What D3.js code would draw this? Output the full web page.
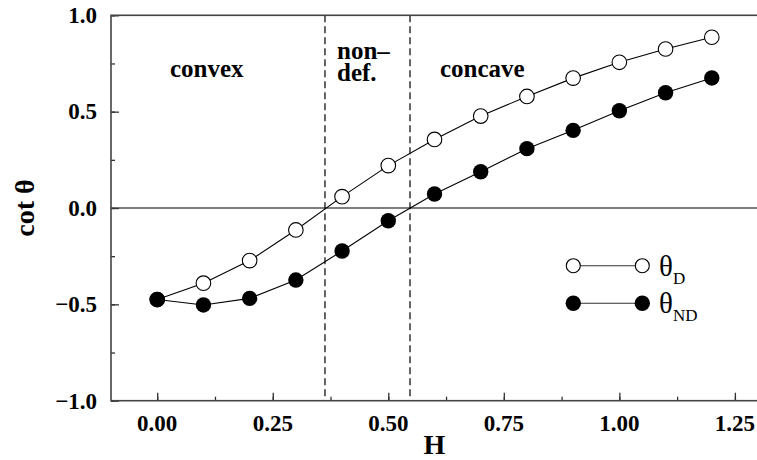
<!DOCTYPE html>
<html>
<head>
<meta charset="utf-8">
<script src="https://cdn.jsdelivr.net/npm/d3@7"></script>
<style>
  body { margin: 0; background: #fff; }
</style>
</head>
<body>
<div id="chart"></div>
<script>
const hValues = [0.0, 0.1, 0.2, 0.3, 0.4, 0.5, 0.6, 0.7, 0.8, 0.9, 1.0, 1.1, 1.2];
const thetaD = [-0.475, -0.39, -0.273, -0.114, 0.059, 0.22, 0.356, 0.477, 0.579, 0.674, 0.756, 0.825, 0.886];
const thetaND = [-0.475, -0.503, -0.469, -0.374, -0.223, -0.066, 0.073, 0.188, 0.308, 0.403, 0.505, 0.598, 0.675];
const xTicks = [0, 0.25, 0.5, 0.75, 1.0, 1.25];
const yTicks = [-1.0, -0.5, 0.0, 0.5, 1.0];
const boundaries = [0.363, 0.547];

const width = 757;
const height = 460;
const margin = { top: 15.3, right: -1, bottom: 59.3, left: 111 };
const serif = '"Liberation Serif", "Times New Roman", serif';

const svg = d3.select('#chart')
  .append('svg')
  .attr('width', width)
  .attr('height', height);

const x = d3.scaleLinear()
  .domain([-0.1, 1.3])
  .range([margin.left, width - margin.right]);

const y = d3.scaleLinear()
  .domain([-1, 1])
  .range([height - margin.bottom, margin.top]);

// zero line
svg.append('line')
  .attr('x1', x(-0.1)).attr('x2', x(1.3))
  .attr('y1', y(0)).attr('y2', y(0))
  .attr('stroke', '#000').attr('stroke-width', 1.2);

// regime boundaries
svg.append('g')
  .selectAll('line')
  .data(boundaries)
  .join('line')
    .attr('x1', d => x(d)).attr('x2', d => x(d))
    .attr('y1', y(1)).attr('y2', y(-1))
    .attr('stroke', '#000')
    .attr('stroke-width', 1.2)
    .attr('stroke-dasharray', '7,4');

// axes, ticks pointing inward
function xAxis(g) {
  g.attr('transform', `translate(0,${y(-1)})`)
    .call(d3.axisTop(x).tickValues(d3.range(0, 1.3, 0.125)).tickSize(4).tickFormat(''))
    .call(g => g.select('.domain').remove());
}
function xMajor(g) {
  g.attr('transform', `translate(0,${y(-1)})`)
    .call(d3.axisTop(x).tickValues(xTicks).tickSize(8).tickFormat(''))
    .call(g => g.select('.domain').remove());
}
function yAxis(g) {
  g.attr('transform', `translate(${x(-0.1)},0)`)
    .call(d3.axisRight(y).tickValues(d3.range(-1, 1.01, 0.25)).tickSize(4).tickFormat(''))
    .call(g => g.select('.domain').remove());
}
function yMajor(g) {
  g.attr('transform', `translate(${x(-0.1)},0)`)
    .call(d3.axisRight(y).tickValues(yTicks).tickSize(8).tickFormat(''))
    .call(g => g.select('.domain').remove());
}
svg.append('g').call(xAxis);
svg.append('g').call(xMajor);
svg.append('g').call(yAxis);
svg.append('g').call(yMajor);
svg.selectAll('.tick line').attr('stroke', '#333').attr('stroke-width', 1.3);

// frame
svg.append('rect')
  .attr('x', x(-0.1)).attr('y', y(1))
  .attr('width', x(1.3) - x(-0.1))
  .attr('height', y(-1) - y(1))
  .attr('fill', 'none')
  .attr('stroke', '#444')
  .attr('stroke-width', 1.6);

// tick labels
svg.append('g')
  .selectAll('text')
  .data(xTicks)
  .join('text')
    .attr('x', d => x(d))
    .attr('y', 431)
    .attr('text-anchor', 'middle')
    .style('font-family', serif)
    .style('font-weight', 'bold')
    .style('font-size', '23px')
    .text(d => d3.format('.2f')(d));

svg.append('g')
  .selectAll('text')
  .data(yTicks)
  .join('text')
    .attr('x', 97)
    .attr('y', d => y(d))
    .attr('dy', '0.34em')
    .attr('text-anchor', 'end')
    .style('font-family', serif)
    .style('font-weight', 'bold')
    .style('font-size', '23px')
    .text(d => (d < 0 ? '\u2212' : '') + d3.format('.1f')(Math.abs(d)));

// axis titles
svg.append('text')
  .attr('x', (x(-0.1) + x(1.3)) / 2)
  .attr('y', 454)
  .attr('text-anchor', 'middle')
  .style('font-family', serif)
  .style('font-weight', 'bold')
  .style('font-size', '28px')
  .text('H');

svg.append('text')
  .attr('transform', `translate(34,${y(0)}) rotate(-90)`)
  .attr('text-anchor', 'middle')
  .style('font-family', serif)
  .style('font-weight', 'bold')
  .style('font-size', '28px')
  .text('cot \u03b8');

// region labels
const regionLabels = [
  { text: 'convex', x: 170, y: 77 },
  { text: 'non\u2013', x: 337, y: 59 },
  { text: 'def.', x: 337, y: 81 },
  { text: 'concave', x: 440, y: 77 }
];
svg.append('g')
  .selectAll('text')
  .data(regionLabels)
  .join('text')
    .attr('x', d => d.x)
    .attr('y', d => d.y)
    .style('font-family', serif)
    .style('font-weight', 'bold')
    .style('font-size', '25px')
    .text(d => d.text);

// series
const line = d3.line().x(d => x(d[0])).y(d => y(d[1]));
const dData = hValues.map((h, i) => [h, thetaD[i]]);
const ndData = hValues.map((h, i) => [h, thetaND[i]]);

svg.append('path').datum(dData)
  .attr('d', line).attr('fill', 'none').attr('stroke', '#000').attr('stroke-width', 1.1);
svg.append('path').datum(ndData)
  .attr('d', line).attr('fill', 'none').attr('stroke', '#000').attr('stroke-width', 1.1);

svg.append('g')
  .selectAll('circle')
  .data(dData)
  .join('circle')
    .attr('cx', d => x(d[0])).attr('cy', d => y(d[1]))
    .attr('r', 7.3)
    .attr('fill', '#fff').attr('stroke', '#000').attr('stroke-width', 1.1);

svg.append('g')
  .selectAll('circle')
  .data(ndData)
  .join('circle')
    .attr('cx', d => x(d[0])).attr('cy', d => y(d[1]))
    .attr('r', 7.7)
    .attr('fill', '#000');

// legend
const legend = svg.append('g');
const legendItems = [
  { label: 'D', open: true, y: 265.7 },
  { label: 'ND', open: false, y: 303.3 }
];
legendItems.forEach(it => {
  legend.append('line')
    .attr('x1', 573.3).attr('x2', 642.3)
    .attr('y1', it.y).attr('y2', it.y)
    .attr('stroke', '#333').attr('stroke-width', 1.1);
  [573.3, 642.3].forEach(cx => {
    legend.append('circle')
      .attr('cx', cx).attr('cy', it.y)
      .attr('r', it.open ? 7 : 7.7)
      .attr('fill', it.open ? '#fff' : '#000')
      .attr('stroke', '#000').attr('stroke-width', it.open ? 1.1 : 0);
  });
  const t = legend.append('text')
    .attr('x', 659)
    .attr('y', it.y + 10)
    .style('font-family', serif)
    .style('font-size', '29px');
  t.append('tspan').text('\u03b8');
  t.append('tspan').style('font-size', '17px').attr('dy', 8).text(it.label);
});
</script>
</body>
</html>
